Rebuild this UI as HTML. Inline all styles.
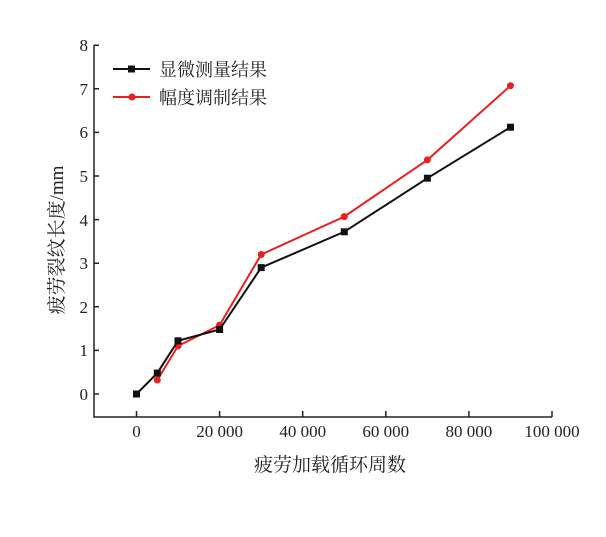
<!DOCTYPE html>
<html><head><meta charset="utf-8"><style>body{margin:0;background:#fff}</style></head><body>
<svg width="606" height="532" xmlns="http://www.w3.org/2000/svg" font-family="Liberation Serif, Noto Serif CJK SC, serif">
<rect width="606" height="532" fill="#fff"/>
<g stroke="#222" stroke-width="1.5" fill="none">
<polyline points="94,45 94,417 552,417"/>
<path d="M94,394h5M94,350.4h5M94,306.8h5M94,263.2h5M94,219.6h5M94,176h5M94,132.4h5M94,88.8h5M94,45.2h5"/>
<path d="M136.5,417v-6M219.6,417v-6M302.7,417v-6M385.8,417v-6M468.9,417v-6M552,417v-6"/>
</g>
<g font-size="17" fill="#222" text-anchor="end">
<text x="88" y="400">0</text><text x="88" y="356">1</text><text x="88" y="313">2</text><text x="88" y="269">3</text><text x="88" y="226">4</text><text x="88" y="182">5</text><text x="88" y="138">6</text><text x="88" y="95">7</text><text x="88" y="51">8</text>
</g>
<g font-size="17" fill="#222" text-anchor="middle">
<text x="136.5" y="437">0</text><text x="219.6" y="437">20 000</text><text x="302.7" y="437">40 000</text><text x="385.8" y="437">60 000</text><text x="468.9" y="437">80 000</text><text x="552" y="437">100 000</text>
<text x="330" y="471" font-size="19">疲劳加载循环周数</text>
<text transform="translate(63,240) rotate(-90)" font-size="19">疲劳裂纹长度/mm</text>
</g>
<polyline fill="none" stroke="#e82020" stroke-width="2" points="157.3,380 178,346 219.6,325.1 261.2,254.5 344.3,216.6 427.4,159.9 510.5,85.7"/>
<g fill="#e82020"><circle cx="157.3" cy="380" r="3.5"/><circle cx="178" cy="346" r="3.5"/><circle cx="219.6" cy="325.1" r="3.5"/><circle cx="261.2" cy="254.5" r="3.5"/><circle cx="344.3" cy="216.6" r="3.5"/><circle cx="427.4" cy="159.9" r="3.5"/><circle cx="510.5" cy="85.7" r="3.5"/></g>
<polyline fill="none" stroke="#111" stroke-width="2" points="136.5,394 157.3,373.1 178,340.8 219.6,329.5 261.2,267.6 344.3,231.8 427.4,178.2 510.5,127.2"/>
<g fill="#111"><rect x="133" y="390.5" width="7" height="7"/><rect x="153.8" y="369.6" width="7" height="7"/><rect x="174.5" y="337.3" width="7" height="7"/><rect x="216.1" y="326" width="7" height="7"/><rect x="257.7" y="264.1" width="7" height="7"/><rect x="340.8" y="228.3" width="7" height="7"/><rect x="423.9" y="174.7" width="7" height="7"/><rect x="507" y="123.7" width="7" height="7"/></g>
<line x1="113" y1="69" x2="150" y2="69" stroke="#111" stroke-width="2"/><rect x="128" y="65.5" width="7" height="7" fill="#111"/>
<line x1="113" y1="97" x2="150" y2="97" stroke="#e82020" stroke-width="2"/><circle cx="132" cy="97" r="3.5" fill="#e82020"/>
<g font-size="18" fill="#222"><text x="159" y="76">显微测量结果</text><text x="159" y="104">幅度调制结果</text></g>
</svg>
</body></html>
